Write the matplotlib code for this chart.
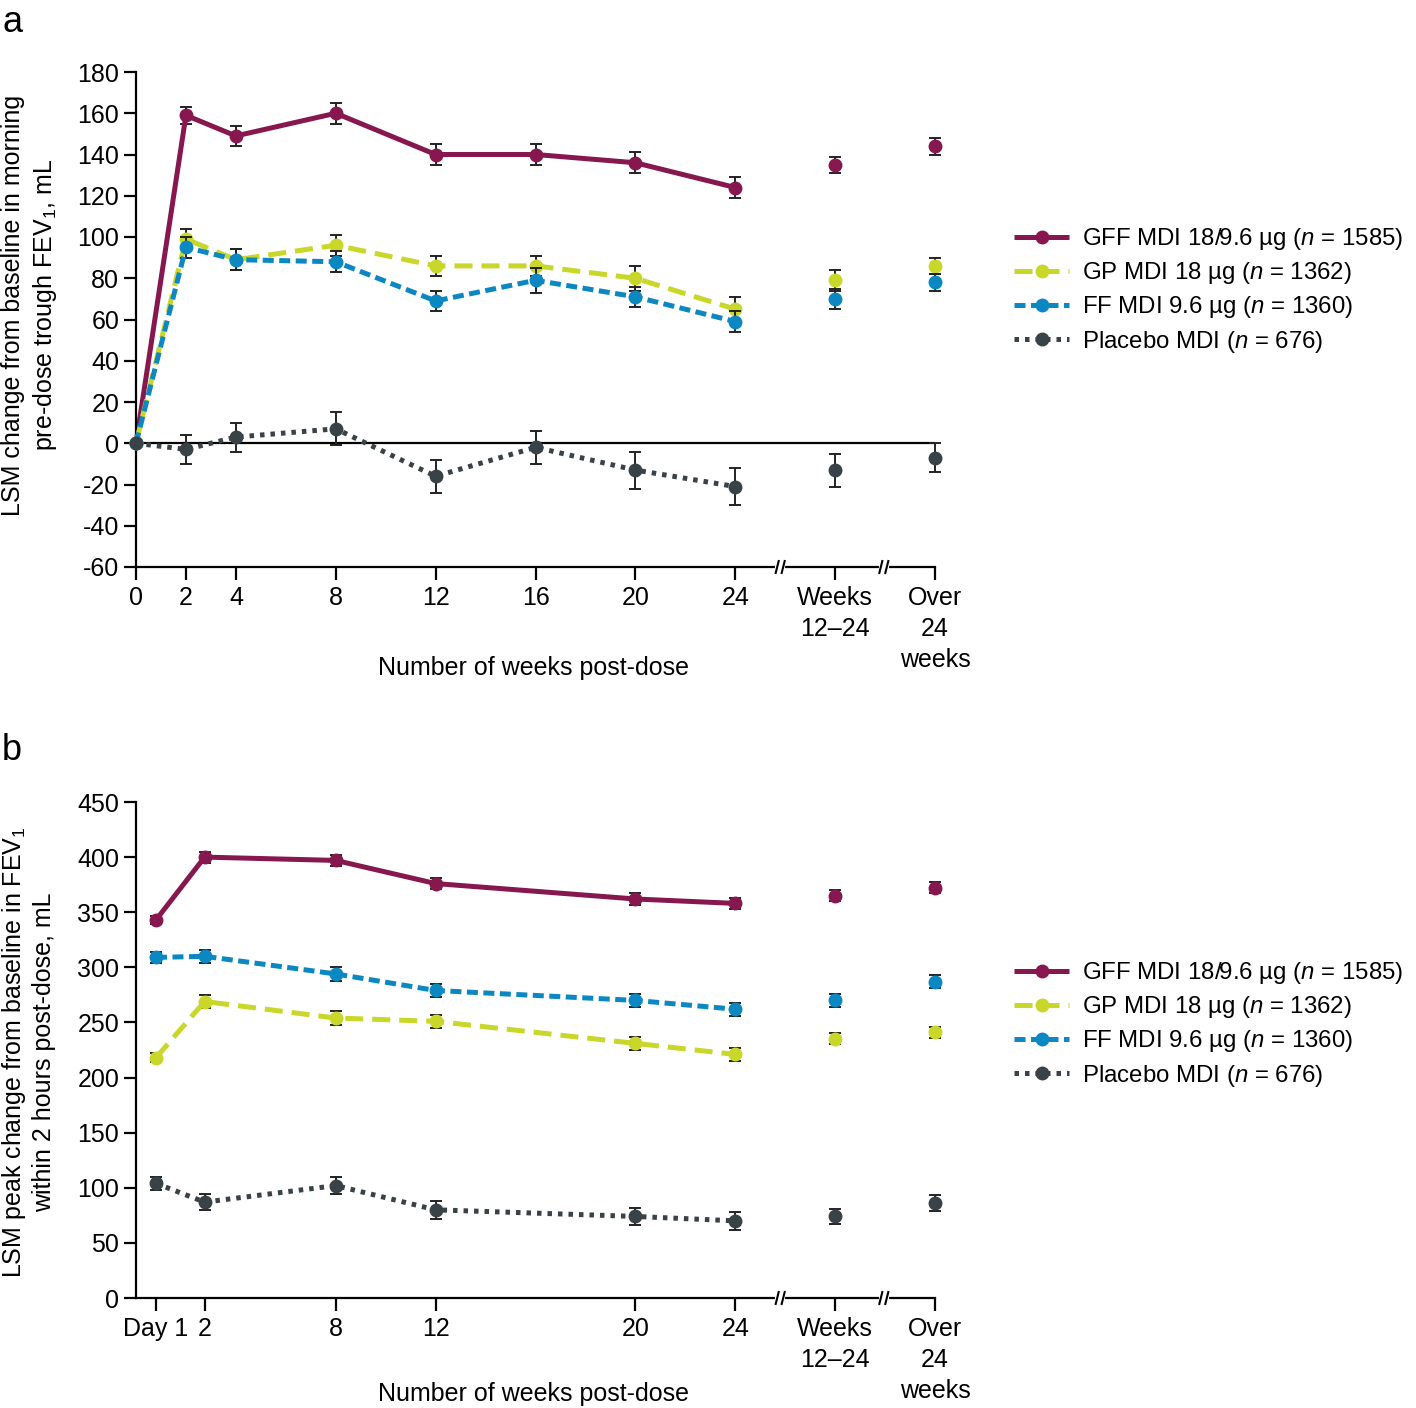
import numpy as np
import matplotlib
matplotlib.use('Agg')
import matplotlib.pyplot as plt
import matplotlib.transforms as mtransforms
from matplotlib.lines import Line2D

plt.rcParams['font.family'] = ['Liberation Sans', 'DejaVu Sans']
plt.rcParams['mathtext.fontset'] = 'custom'
plt.rcParams['mathtext.rm'] = 'Liberation Sans'
plt.rcParams['mathtext.it'] = 'Liberation Sans:italic'
plt.rcParams['axes.unicode_minus'] = False

# ---- data, panel a (trough FEV1) ----
weeks_a = [0, 2, 4, 8, 12, 16, 20, 24]
xticklabels_a = ['0', '2', '4', '8', '12', '16', '20', '24', 'Weeks\n12\u201324', 'Over\n24\nweeks']
gff_a = [0, 159, 149, 160, 140, 140, 136, 124]
gff_a_err = [0, 4, 5, 5, 5, 5, 5, 5]
gp_a = [0, 99, 89, 96, 86, 86, 80, 65]
gp_a_err = [0, 5, 5, 5, 5, 5, 6, 6]
ff_a = [0, 95, 89, 88, 69, 79, 71, 59]
ff_a_err = [0, 5, 5, 5, 5, 6, 5, 5]
pbo_a = [0, -3, 3, 7, -16, -2, -13, -21]
pbo_a_err = [0, 7, 7, 8, 8, 8, 9, 9]
# summary points: weeks 12-24, over 24 weeks
gff_a_sum, gff_a_sum_err = [135, 144], [4, 4]
gp_a_sum, gp_a_sum_err = [79, 86], [5, 4]
ff_a_sum, ff_a_sum_err = [70, 78], [5, 4]
pbo_a_sum, pbo_a_sum_err = [-13, -7], [8, 7]

# ---- data, panel b (peak FEV1) ----
weeks_b = [0.8, 2.75, 8, 12, 20, 24]
xticklabels_b = ['Day 1', '2', '8', '12', '20', '24', 'Weeks\n12\u201324', 'Over\n24\nweeks']
gff_b = [343, 400, 397, 376, 362, 358]
gff_b_err = [4, 5, 5, 5, 5, 5]
gp_b = [218, 269, 254, 251, 231, 221]
gp_b_err = [4, 6, 6, 6, 6, 6]
ff_b = [309, 310, 294, 279, 270, 262]
ff_b_err = [5, 6, 6, 6, 6, 6]
pbo_b = [104, 87, 102, 80, 74, 70]
pbo_b_err = [6, 7, 8, 8, 8, 8]
gff_b_sum, gff_b_sum_err = [365, 372], [5, 5]
gp_b_sum, gp_b_sum_err = [235, 241], [5, 5]
ff_b_sum, ff_b_sum_err = [270, 287], [6, 6]
pbo_b_sum, pbo_b_sum_err = [74, 86], [7, 7]

sum_x = [28, 32]
break_x = [25.8, 29.95]

labels = ['GFF MDI 18/9.6 \u00b5g ($n$ = 1585)', 'GP MDI 18 \u00b5g ($n$ = 1362)',
          'FF MDI 9.6 \u00b5g ($n$ = 1360)', 'Placebo MDI ($n$ = 676)']
colors = ['#87184f', '#c9d62a', '#0b88c1', '#394246']
lw = 3.6
dashes = [None, (3.6, 1.8), (2.2, 1.1), (0.9, 1.2)]

FS = 18
FS_LEG = 17.3


def draw_series(ax, x, y, yerr, xs, ys, yserr, color, dash, zorder):
    ax.errorbar(x, y, yerr=yerr, fmt='none', ecolor='#222222', elinewidth=1.4,
                capsize=4, capthick=1.4, zorder=zorder, clip_on=False)
    ln, = ax.plot(x, y, color=color, lw=lw, marker='o', ms=9, zorder=zorder + 0.5,
                  clip_on=False, solid_capstyle='butt', dash_capstyle='butt')
    if dash is not None:
        ln.set_dashes(dash)
    ax.errorbar(xs, ys, yerr=yserr, fmt='none', ecolor='#222222', elinewidth=1.4,
                capsize=4, capthick=1.4, zorder=zorder, clip_on=False)
    ax.plot(xs, ys, ls='none', marker='o', ms=9, color=color, zorder=zorder + 0.5,
            clip_on=False)


def style_axis(ax, ticks, ticklabels, xlabel_y):
    for s in ['top', 'right']:
        ax.spines[s].set_visible(False)
    for s in ['left', 'bottom']:
        ax.spines[s].set_linewidth(1.6)
    ax.set_xlim(0, 32)
    ax.set_xticks(ticks)
    ax.set_xticklabels(ticklabels, fontsize=FS, linespacing=1.36)
    ax.tick_params(axis='both', length=9, width=1.6, labelsize=FS)
    ax.tick_params(axis='x', pad=5)
    ax.tick_params(axis='y', pad=3)
    ax.set_xlabel('Number of weeks post-dose', fontsize=FS, va='center')
    ax.xaxis.set_label_coords(0.497, xlabel_y)
    trans = mtransforms.blended_transform_factory(ax.transData, ax.transAxes)
    for bx in break_x:
        ax.plot([bx - 0.12, bx + 0.12], [0, 0], color='white', lw=3, transform=trans,
                clip_on=False, zorder=5)
        for off in (-0.12, 0.12):
            ax.plot([bx + off - 0.06, bx + off + 0.06], [-0.012, 0.012], color='black',
                    lw=1.5, transform=trans, clip_on=False, zorder=6)


fig = plt.figure(figsize=(14.16, 14.08), dpi=100)
ax_a = fig.add_axes([136 / 1416, 1 - 567 / 1408, (935 - 136) / 1416, 495 / 1408])
ax_b = fig.add_axes([136 / 1416, 1 - 1298 / 1408, (935 - 136) / 1416, 496 / 1408])

# panel a
ax_a.axhline(0, color='black', lw=1.6, zorder=1)
series_a = [(gff_a, gff_a_err, gff_a_sum, gff_a_sum_err),
            (gp_a, gp_a_err, gp_a_sum, gp_a_sum_err),
            (ff_a, ff_a_err, ff_a_sum, ff_a_sum_err),
            (pbo_a, pbo_a_err, pbo_a_sum, pbo_a_sum_err)]
for i, (y, e, ys, es) in enumerate(series_a):
    draw_series(ax_a, weeks_a, y, e, sum_x, ys, es, colors[i], dashes[i], 2 + i)
ax_a.set_ylim(-60, 180)
ax_a.set_yticks(np.arange(-60, 181, 20))
style_axis(ax_a, weeks_a + sum_x, xticklabels_a, (567 - 668) / 495)

# panel b
series_b = [(gff_b, gff_b_err, gff_b_sum, gff_b_sum_err),
            (gp_b, gp_b_err, gp_b_sum, gp_b_sum_err),
            (ff_b, ff_b_err, ff_b_sum, ff_b_sum_err),
            (pbo_b, pbo_b_err, pbo_b_sum, pbo_b_sum_err)]
for i, (y, e, ys, es) in enumerate(series_b):
    draw_series(ax_b, weeks_b, y, e, sum_x, ys, es, colors[i], dashes[i], 2 + i)
ax_b.set_ylim(0, 450)
ax_b.set_yticks(np.arange(0, 451, 50))
style_axis(ax_b, weeks_b + sum_x, xticklabels_b, (1298 - 1394) / 496)

# y labels (two lines each)
fig.text(30 / 1416, 1 - 305 / 1408,
         'LSM change from baseline in morning\npre-dose trough FEV$_1$, mL',
         rotation=90, ha='center', va='center', fontsize=FS, linespacing=1.25)
fig.text(28 / 1416, 1 - 1052 / 1408,
         'LSM peak change from baseline in FEV$_1$\nwithin 2 hours post-dose, mL',
         rotation=90, ha='center', va='center', fontsize=FS, linespacing=1.25)

# legends
handles = []
for i in range(4):
    h = Line2D([], [], color=colors[i], lw=lw, marker='o', ms=9,
               solid_capstyle='butt', dash_capstyle='butt')
    if dashes[i] is not None:
        h.set_dashes(dashes[i])
    handles.append(h)
for top in (226 / 1408, 960 / 1408):
    fig.legend(handles, labels, loc='upper left', bbox_to_anchor=(1014 / 1416, 1 - top),
               frameon=False, fontsize=FS_LEG, handlelength=2.3, handletextpad=0.55,
               labelspacing=0.34, borderpad=0, borderaxespad=0)

fig.text(2 / 1416, 1 - 32 / 1408, 'a', fontsize=26)
fig.text(2 / 1416, 1 - 760 / 1408, 'b', fontsize=26)

fig.savefig('out.png', dpi=100)
